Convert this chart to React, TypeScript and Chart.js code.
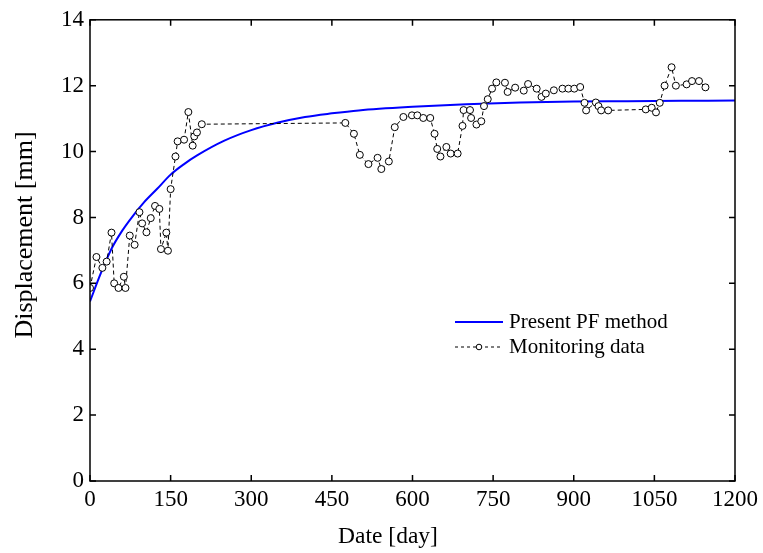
import React, { useEffect, useRef } from "react";
import { Chart, registerables } from "chart.js";

Chart.register(...registerables);

// Monitoring data (day, displacement mm)
const monDays = [0, 12, 23, 31, 40, 45, 53, 63, 66, 74, 83, 92, 97, 105, 113, 121, 129, 132, 142, 145, 150, 159, 163, 175, 183, 191, 194, 199, 208, 475, 491, 502, 518, 535, 542, 556, 567, 583, 599, 609, 620, 633, 641, 646, 652, 663, 671, 684, 693, 695, 707, 709, 719, 728, 733, 740, 748, 756, 772, 777, 791, 807, 815, 831, 840, 848, 863, 879, 890, 901, 912, 920, 923, 941, 946, 951, 964, 1034, 1045, 1053, 1060, 1069, 1082, 1090, 1110, 1120, 1133, 1145];
const monVals = [5.86, 6.8, 6.47, 6.66, 7.54, 6.0, 5.86, 6.2, 5.86, 7.45, 7.17, 8.16, 7.82, 7.55, 7.98, 8.35, 8.26, 7.04, 7.54, 6.99, 8.86, 9.85, 10.31, 10.36, 11.2, 10.18, 10.46, 10.58, 10.83, 10.87, 10.54, 9.9, 9.62, 9.81, 9.47, 9.7, 10.74, 11.05, 11.1, 11.1, 11.02, 11.02, 10.54, 10.08, 9.85, 10.14, 9.94, 9.94, 10.78, 11.26, 11.26, 11.02, 10.82, 10.92, 11.38, 11.59, 11.91, 12.1, 12.09, 11.81, 11.94, 11.85, 12.05, 11.91, 11.66, 11.76, 11.86, 11.91, 11.91, 11.91, 11.96, 11.48, 11.25, 11.49, 11.38, 11.25, 11.25, 11.28, 11.33, 11.19, 11.48, 12.0, 12.56, 12.0, 12.04, 12.14, 12.14, 11.95];

// Present PF method curve
const pfDays = [0, 20, 40, 60, 80, 100, 125, 150, 175, 200, 250, 300, 350, 400, 450, 500, 600, 700, 800, 900, 1000, 1100, 1200];
const pfVals = [5.45, 6.3, 7.05, 7.6, 8.05, 8.45, 8.87, 9.3, 9.62, 9.89, 10.33, 10.65, 10.88, 11.05, 11.16, 11.25, 11.36, 11.44, 11.49, 11.52, 11.53, 11.54, 11.55];

const xTicks = [0, 150, 300, 450, 600, 750, 900, 1050, 1200];
const yTicks = [0, 2, 4, 6, 8, 10, 12, 14];

const legendLabels = ["Present PF method", "Monitoring data"];
const xTitle = "Date [day]";
const yTitle = "Displacement [mm]";

const FONT = '"Liberation Serif", "Times New Roman", serif';

const framePlugin = {
  id: "frameTicks",
  afterDraw(chart: any) {
    const { ctx, chartArea, scales } = chart;
    const { left, right, top, bottom } = chartArea;
    ctx.save();
    ctx.strokeStyle = "#000";
    ctx.lineWidth = 1.5;
    ctx.strokeRect(left, top, right - left, bottom - top);
    const tl = 6;
    ctx.beginPath();
    for (const v of xTicks) {
      const px = scales.x.getPixelForValue(v);
      ctx.moveTo(px, bottom);
      ctx.lineTo(px, bottom - tl);
      ctx.moveTo(px, top);
      ctx.lineTo(px, top + tl);
    }
    for (const v of yTicks) {
      const py = scales.y.getPixelForValue(v);
      ctx.moveTo(left, py);
      ctx.lineTo(left + tl, py);
      ctx.moveTo(right, py);
      ctx.lineTo(right - tl, py);
    }
    ctx.stroke();

    // axis titles
    ctx.fillStyle = "#000";
    ctx.textAlign = "center";
    ctx.textBaseline = "middle";
    ctx.font = `23.5px ${FONT}`;
    ctx.fillText(xTitle, 388, 537);
    ctx.save();
    ctx.translate(25, 235);
    ctx.rotate(-Math.PI / 2);
    ctx.font = `26px ${FONT}`;
    ctx.fillText(yTitle, 0, 0);
    ctx.restore();

    // legend
    const lx0 = 455, lx1 = 503, tx = 509;
    const y1 = 322, y2 = 347;
    ctx.font = `21px ${FONT}`;
    ctx.fillStyle = "#000";
    ctx.textBaseline = "middle";
    ctx.textAlign = "left";
    ctx.strokeStyle = "#0000ff";
    ctx.lineWidth = 2;
    ctx.beginPath();
    ctx.moveTo(lx0, y1);
    ctx.lineTo(lx1, y1);
    ctx.stroke();
    ctx.fillText(legendLabels[0], tx, y1);

    ctx.strokeStyle = "#000";
    ctx.lineWidth = 1;
    ctx.setLineDash([3, 3]);
    ctx.beginPath();
    ctx.moveTo(lx0, y2);
    ctx.lineTo(lx1, y2);
    ctx.stroke();
    ctx.setLineDash([]);
    ctx.beginPath();
    ctx.arc((lx0 + lx1) / 2, y2, 2.8, 0, Math.PI * 2);
    ctx.fillStyle = "#fff";
    ctx.fill();
    ctx.stroke();
    ctx.fillStyle = "#000";
    ctx.fillText(legendLabels[1], tx, y2);
    ctx.restore();
  },
};

export default function App() {
  const ref = useRef<HTMLCanvasElement | null>(null);
  useEffect(() => {
    if (!ref.current) return;
    const chart = new Chart(ref.current, {
      type: "scatter",
      data: {
        datasets: [
          {
            label: legendLabels[1],
            data: monDays.map((d, i) => ({ x: d, y: monVals[i] })),
            showLine: true,
            borderColor: "#000",
            borderWidth: 1,
            borderDash: [4, 3],
            pointRadius: 3.5,
            pointBorderWidth: 1,
            pointBorderColor: "#000",
            pointBackgroundColor: "#fff",
            order: 1,
          },
          {
            label: legendLabels[0],
            data: pfDays.map((d, i) => ({ x: d, y: pfVals[i] })),
            showLine: true,
            borderColor: "#0000ff",
            borderWidth: 2,
            pointRadius: 0,
            cubicInterpolationMode: "monotone",
            order: 2,
          } as any,
        ],
      },
      options: {
        animation: false,
        responsive: false,
        layout: { padding: { top: 17, right: 26, left: 0, bottom: 0 } },
        plugins: { legend: { display: false }, tooltip: { enabled: false } },
        scales: {
          x: {
            type: "linear",
            min: 0,
            max: 1200,
            afterBuildTicks: (s: any) => {
              s.ticks = xTicks.map((v) => ({ value: v }));
            },
            afterFit: (s: any) => {
              s.height = 72;
            },
            grid: { display: false, drawTicks: false },
            border: { display: false },
            ticks: { color: "#000", font: { family: FONT, size: 23 }, padding: 5, maxRotation: 0, callback: (v: any) => String(v) },
            title: { display: false },
          },
          y: {
            type: "linear",
            min: 0,
            max: 14,
            afterBuildTicks: (s: any) => {
              s.ticks = yTicks.map((v) => ({ value: v }));
            },
            afterFit: (s: any) => {
              s.width = 90;
            },
            grid: { display: false, drawTicks: false },
            border: { display: false },
            ticks: { color: "#000", font: { family: FONT, size: 23 }, padding: 6, callback: (v: any) => String(v) },
            title: { display: false },
          },
        },
      },
      plugins: [framePlugin],
    });
    return () => chart.destroy();
  }, []);
  return (
    <div style={{ position: "absolute", left: 0, top: 0, width: 763, height: 553, background: "#fff" }}>
      <canvas ref={ref} width={763} height={553} style={{ width: 763, height: 553 }} />
    </div>
  );
}
